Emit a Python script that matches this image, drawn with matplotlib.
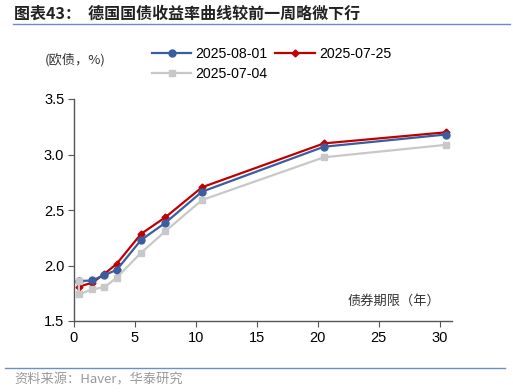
import matplotlib
matplotlib.use("Agg")
import matplotlib.pyplot as plt
from matplotlib.lines import Line2D

plt.rcParams['font.family'] = ['Liberation Sans', 'Noto Sans CJK SC', 'DejaVu Sans']

# tenor positions as plotted (years)
tenor = [0.4, 1.5, 2.5, 3.5, 5.5, 7.5, 10.5, 20.5, 30.5]
y_0801 = [1.86, 1.865, 1.915, 1.96, 2.23, 2.385, 2.665, 3.07, 3.18]
y_0725 = [1.81, 1.845, 1.925, 2.015, 2.285, 2.435, 2.705, 3.10, 3.20]
tenor_0704 = [0.4, 0.4, 1.5, 2.5, 3.5, 5.5, 7.5, 10.5, 20.5, 30.5]
y_0704 = [1.86, 1.74, 1.785, 1.805, 1.89, 2.115, 2.31, 2.59, 2.975, 3.087]

labels = ['2025-08-01', '2025-07-25', '2025-07-04']
c_blue, c_red, c_gray = '#3A5DA0', '#C00000', '#C8C8C8'

fig = plt.figure(figsize=(5.13, 3.92), dpi=100)
ax = fig.add_axes([74/513, 1-321/392, (452-74)/513, (321-99)/392])

ax.plot(tenor, y_0725, color=c_red, lw=1.6, marker='D', ms=3.5, zorder=2)
ax.plot(tenor, y_0801, color=c_blue, lw=1.6, marker='o', ms=5, zorder=3)
ax.plot(tenor_0704, y_0704, color=c_gray, lw=1.6, marker='s', ms=5, zorder=4)

ax.set_xlim(0, 31)
ax.set_ylim(1.5, 3.5)
ax.set_xticks([0, 5, 10, 15, 20, 25, 30])
ax.set_yticks([1.5, 2.0, 2.5, 3.0, 3.5])
ax.yaxis.set_major_formatter(matplotlib.ticker.FormatStrFormatter('%.1f'))
for s in ['top', 'right']:
    ax.spines[s].set_visible(False)
for s in ['left', 'bottom']:
    ax.spines[s].set_color('#555555')
    ax.spines[s].set_linewidth(1.0)
ax.tick_params(axis='both', direction='out', length=4, color='#555555', labelsize=10.5, pad=3)

ax.text(0.97, 0.09, '债券期限（年）', transform=ax.transAxes, ha='right', va='center',
        fontsize=9.5, family=['Noto Sans CJK SC'], color='#333333')

handles = [Line2D([], [], color=c_blue, lw=1.6, marker='o', ms=5),
           Line2D([], [], color=c_red, lw=1.6, marker='D', ms=3.5),
           Line2D([], [], color=c_gray, lw=1.6, marker='s', ms=5)]
# column-wise fill: order so row 1 = 08-01, 07-25; row 2 = 07-04
order = [0, 2, 1]
fig.legend([handles[i] for i in order], [labels[i] for i in order], loc='upper left',
           bbox_to_anchor=(146/513, 1-41/392), ncol=2,
           frameon=False, fontsize=10.2, handlelength=2.8, columnspacing=0.5,
           handletextpad=0.3, labelspacing=0.45, borderaxespad=0)

fig.text(45/513, 1-60/392, '(欧债，%)', ha='left', va='center', fontsize=9.5,
         family=['Noto Sans CJK SC'], color='#333333')

fig.text(14/513, 1-14/392, '图表43：  德国国债收益率曲线较前一周略微下行', ha='left', va='center',
         fontsize=11.5, fontweight='bold', family=['Noto Sans CJK SC'], color='#222222')
fig.add_artist(Line2D([13/513, 510/513], [1-24/392, 1-24/392], color='#6A8FC4', lw=1.0))
fig.add_artist(Line2D([5/513, 505/513], [1-368/392, 1-368/392], color='#6A8FC4', lw=1.0))
fig.text(14/513, 1-380/392, '资料来源：Haver，华泰研究', ha='left', va='center', fontsize=9.5,
         family=['Noto Sans CJK SC'], color='#999999')

fig.savefig('out.png', dpi=100)
